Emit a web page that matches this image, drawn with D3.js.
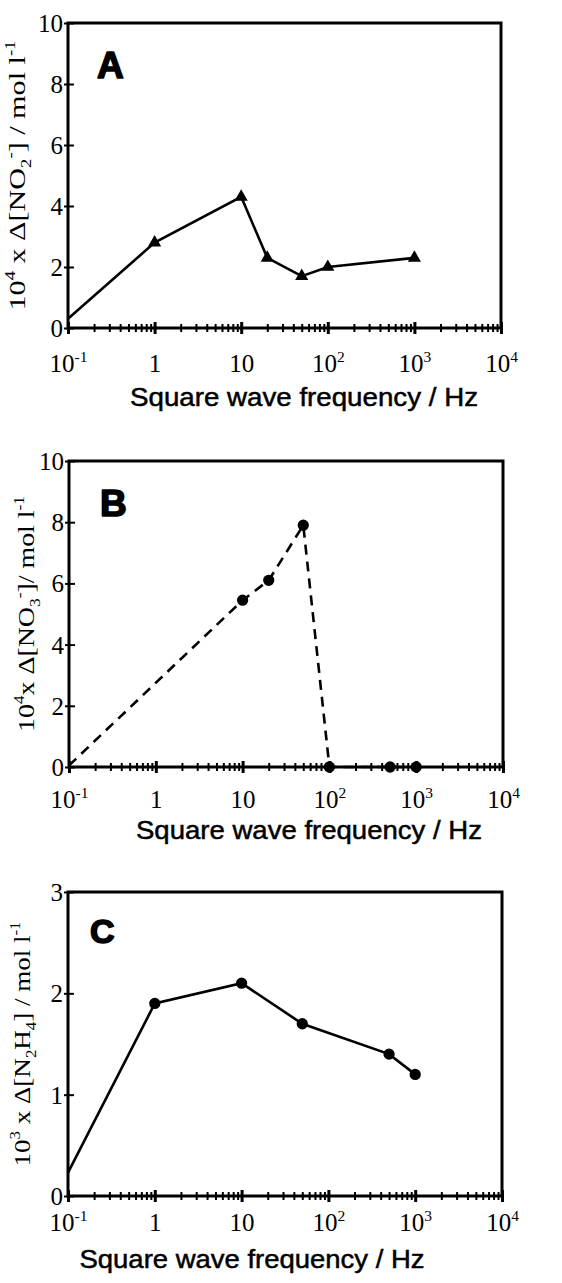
<!DOCTYPE html>
<html>
<head>
<meta charset="utf-8">
<script src="https://cdn.jsdelivr.net/npm/d3@7/dist/d3.min.js"></script>
<style>
  body { margin: 0; background: #fff; }
  svg { display: block; }
</style>
</head>
<body>
<div id="chart"></div>
<script>
// data (frequency in Hz)
var freqA = [0.1, 1, 10, 20, 50, 100, 1000];
var no2Values = [0.3, 2.8, 4.3, 2.3, 1.7, 2.0, 2.3];

var freqB = [0.1, 10, 20, 50, 100, 500, 1000];
var no3Values = [0.05, 5.45, 6.1, 7.9, 0, 0, 0];

var freqC = [0.1, 1, 10, 50, 500, 1000];
var n2h4Values = [0.23, 1.9, 2.1, 1.7, 1.4, 1.2];

var xDecades = [0.1, 1, 10, 100, 1000, 10000];
var xTickLabels = [["10", "-1"], ["1", ""], ["10", ""], ["10", "2"], ["10", "3"], ["10", "4"]];
var yTicksAB = [0, 2, 4, 6, 8, 10];
var yTicksC = [0, 1, 2, 3];

var panelLetters = ["A", "B", "C"];
var xTitle = "Square wave frequency / Hz";
// y titles as [text, mode] pieces, mode: 0 normal, 1 sup, -1 sub
var yTitleA = [["10", 0], ["4", 1], [" x \u0394[NO", 0], ["2", -1], ["-", 1], ["] / mol l", 0], ["-1", 1]];
var yTitleB = [["10", 0], ["4", 1], ["x \u0394[NO", 0], ["3", -1], ["-", 1], ["]/ mol l", 0], ["-1", 1]];
var yTitleC = [["10", 0], ["3", 1], [" x \u0394[N", 0], ["2", -1], ["H", 0], ["4", -1], ["] / mol l", 0], ["-1", 1]];

var serif = "'Liberation Serif', 'Times New Roman', serif";
var sans = "'Liberation Sans', Arial, sans-serif";

var svg = d3.select("#chart").append("svg")
  .attr("width", 562)
  .attr("height", 1283);

// append pieces with super/subscript shifts
function richText(sel, pieces, size) {
  var shift = 0;
  pieces.forEach(function (p) {
    var target = p[1] === 1 ? -0.42 * size : (p[1] === -1 ? 0.25 * size : 0);
    sel.append("tspan")
      .attr("dy", target - shift)
      .style("font-size", (p[1] === 0 ? size : size * 0.62) + "px")
      .text(p[0]);
    shift = target;
  });
}

function drawPanel(cfg) {
  var x = d3.scaleLog().domain([0.1, 10000]).range([cfg.left, cfg.right]);
  var y = d3.scaleLinear().domain([0, cfg.yMax]).range([cfg.bottom, cfg.top]);

  var g = svg.append("g");

  // minor + major ticks on the x axis
  var allTicks = [];
  xDecades.forEach(function (d, i) {
    allTicks.push(d);
    if (i < xDecades.length - 1) {
      for (var k = 2; k <= 9; k++) allTicks.push(d * k);
    }
  });

  var xAxis = g.append("g")
    .attr("transform", "translate(0," + cfg.bottom + ")")
    .call(d3.axisBottom(x).tickValues(allTicks).tickSize(0).tickFormat(""));
  xAxis.select(".domain").remove();
  xAxis.selectAll(".tick line")
    .attr("y1", function (d) { return xDecades.indexOf(d) >= 0 ? -6 : -4; })
    .attr("y2", function (d) { return xDecades.indexOf(d) >= 0 ? 6 : 4; })
    .attr("stroke", "#000")
    .attr("stroke-width", function (d) { return xDecades.indexOf(d) >= 0 ? 3 : 2; });

  xAxis.selectAll(".tick")
    .filter(function (d) { return xDecades.indexOf(d) >= 0; })
    .append("text")
    .attr("y", cfg.tickBase - cfg.bottom)
    .attr("text-anchor", "middle")
    .attr("fill", "#000")
    .style("font-family", serif)
    .each(function (d) {
      var lab = xTickLabels[xDecades.indexOf(d)];
      var t = d3.select(this);
      var pieces = [[lab[0], 0]];
      if (lab[1]) pieces.push([lab[1], 1]);
      richText(t, pieces, 25);
    });

  // y axis
  var yAxis = g.append("g")
    .attr("transform", "translate(" + cfg.left + ",0)")
    .call(d3.axisLeft(y).tickValues(cfg.yTicks).tickSize(0).tickFormat(d3.format("d")));
  yAxis.select(".domain").remove();
  yAxis.selectAll(".tick line")
    .attr("x1", -4).attr("x2", 6)
    .attr("stroke", "#000").attr("stroke-width", 2);
  yAxis.selectAll(".tick text")
    .attr("x", -5)
    .attr("dy", "0.34em")
    .attr("fill", "#000")
    .style("font-family", serif)
    .style("font-size", "25px");

  // frame
  g.append("rect")
    .attr("x", cfg.left).attr("y", cfg.top)
    .attr("width", cfg.right - cfg.left)
    .attr("height", cfg.bottom - cfg.top)
    .attr("fill", "none")
    .attr("stroke", "#000")
    .attr("stroke-width", 3);

  // series
  var pts = cfg.freq.map(function (f, i) { return { f: f, v: cfg.values[i] }; });
  var line = d3.line()
    .x(function (d) { return x(d.f); })
    .y(function (d) { return y(d.v); });

  g.append("path")
    .datum(pts)
    .attr("d", line)
    .attr("fill", "none")
    .attr("stroke", "#000")
    .attr("stroke-width", 2.6)
    .attr("stroke-dasharray", cfg.dashed ? "10,7" : null);

  var sym = d3.symbol().type(cfg.marker === "triangle" ? d3.symbolTriangle : d3.symbolCircle)
    .size(cfg.marker === "triangle" ? 75 : 100);

  g.selectAll(".marker")
    .data(pts.slice(1))
    .enter().append("path")
    .attr("class", "marker")
    .attr("d", sym)
    .attr("transform", function (d) { return "translate(" + x(d.f) + "," + y(d.v) + ")"; })
    .attr("fill", "#000");

  // panel letter
  g.append("text")
    .attr("x", cfg.left + cfg.letterDx)
    .attr("y", cfg.top + cfg.letterDy)
    .attr("fill", "#000")
    .attr("stroke", "#000")
    .attr("stroke-width", 1.6)
    .attr("stroke-linejoin", "round")
    .style("font-family", sans)
    .style("font-weight", "bold")
    .style("font-size", cfg.letterSize + "px")
    .text(cfg.letter);

  // x title
  g.append("text")
    .attr("x", cfg.titleX)
    .attr("y", cfg.titleBase)
    .attr("text-anchor", "middle")
    .attr("textLength", cfg.titleLen)
    .attr("lengthAdjust", "spacingAndGlyphs")
    .attr("fill", "#000")
    .attr("stroke", "#000")
    .attr("stroke-width", 0.5)
    .style("font-family", sans)
    .style("font-size", "26px")
    .text(xTitle);

  // y title
  var yt = g.append("text")
    .attr("transform", "translate(" + cfg.yTitleX + "," + ((cfg.top + cfg.bottom) / 2) + ") rotate(-90)")
    .attr("text-anchor", "middle")
    .attr("textLength", cfg.yTitleLen)
    .attr("lengthAdjust", "spacingAndGlyphs")
    .attr("dy", "0.35em")
    .attr("fill", "#000")
    .style("font-family", serif);
  richText(yt, cfg.yTitle, 24);
}

drawPanel({
  left: 68, right: 501, top: 23, bottom: 328, yMax: 10, yTicks: yTicksAB,
  tickBase: 372, titleX: 304, titleBase: 406, titleLen: 348,
  yTitleX: 25, yTitle: yTitleA, yTitleLen: 270,
  freq: freqA, values: no2Values, marker: "triangle", dashed: false,
  letter: panelLetters[0], letterDx: 29, letterDy: 55, letterSize: 37
});

drawPanel({
  left: 69, right: 503, top: 461, bottom: 767, yMax: 10, yTicks: yTicksAB,
  tickBase: 808, titleX: 309, titleBase: 839, titleLen: 346,
  yTitleX: 34, yTitle: yTitleB, yTitleLen: 236,
  freq: freqB, values: no3Values, marker: "circle", dashed: true,
  letter: panelLetters[1], letterDx: 31, letterDy: 55, letterSize: 37
});

drawPanel({
  left: 68, right: 502, top: 892, bottom: 1196, yMax: 3, yTicks: yTicksC,
  tickBase: 1231, titleX: 252, titleBase: 1268, titleLen: 345,
  yTitleX: 30, yTitle: yTitleC, yTitleLen: 245,
  freq: freqC, values: n2h4Values, marker: "circle", dashed: false,
  letter: panelLetters[2], letterDx: 22, letterDy: 51, letterSize: 34
});
</script>
</body>
</html>
